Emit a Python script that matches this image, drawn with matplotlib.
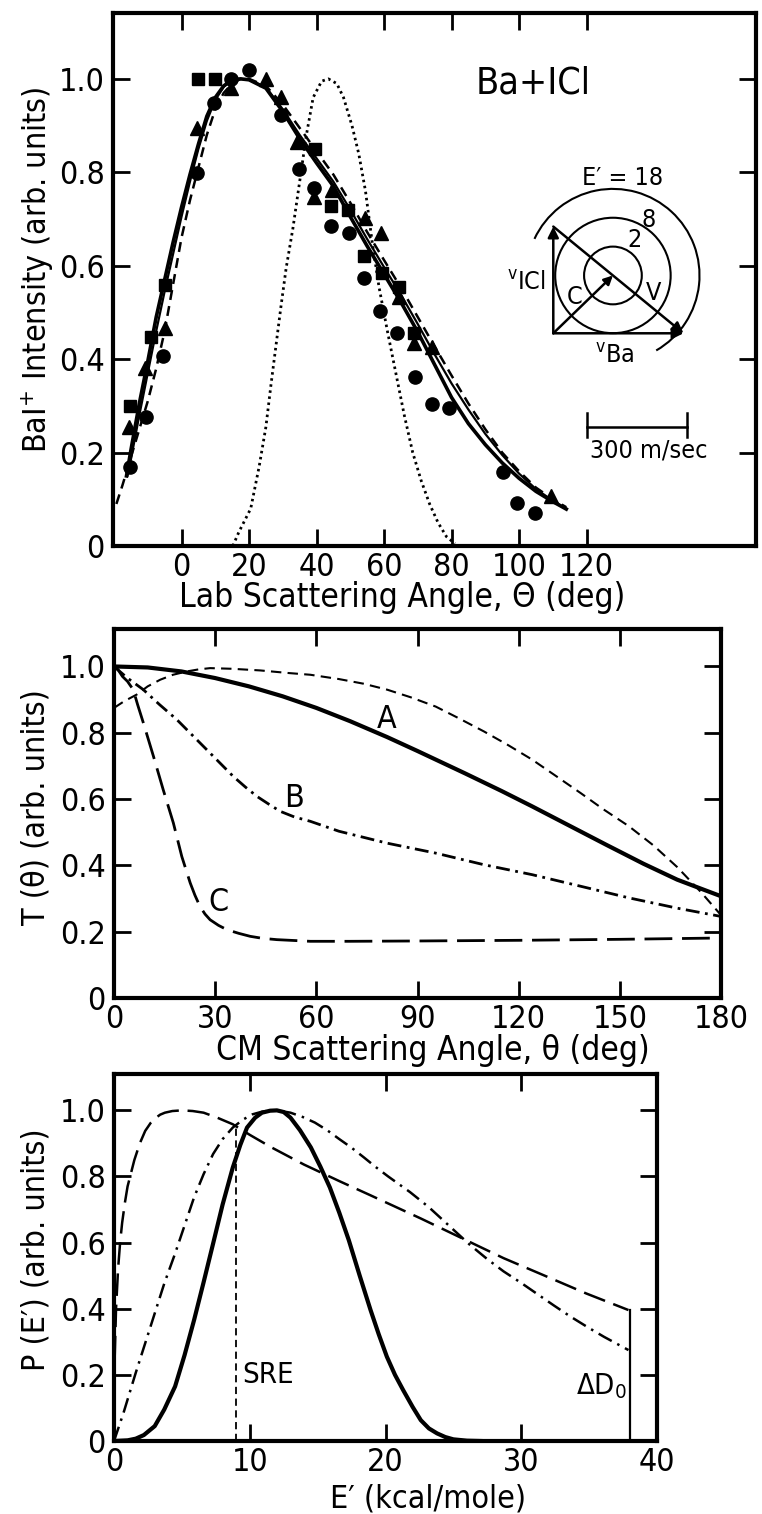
import numpy as np
import matplotlib
matplotlib.use("Agg")
import matplotlib.pyplot as plt
from matplotlib import font_manager
from matplotlib.patches import Circle, Arc

names = {f.name for f in font_manager.fontManager.ttflist}
FONT = 'Liberation Sans Narrow' if 'Liberation Sans Narrow' in names else 'DejaVu Sans'
plt.rcParams['font.family'] = [FONT, 'DejaVu Sans']
if FONT == 'DejaVu Sans':
    plt.rcParams['font.stretch'] = 'condensed'
plt.rcParams['mathtext.fontset'] = 'custom'
plt.rcParams['mathtext.rm'] = FONT
plt.rcParams['mathtext.it'] = FONT

# ---------------- Panel 1 data: lab angular distribution ----------------
circ_theta = [-15.4, -10.4, -5.6, 4.5, 9.5, 14.7, 19.9, 29.4, 34.7, 39.3, 44.2, 49.6, 54.1,
              58.7, 63.9, 69.1, 74.1, 79.2, 95.1, 99.4, 104.6]
circ_I = [0.17, 0.277, 0.406, 0.798, 0.948, 1.0, 1.02, 0.923, 0.806, 0.766, 0.685, 0.67, 0.573,
          0.502, 0.457, 0.362, 0.304, 0.295, 0.159, 0.093, 0.071]
sq_theta = [-15.2, -9.0, -5.0, 5.0, 10.0, 39.6, 44.2, 49.4, 54.1, 59.5, 64.4, 68.8]
sq_I = [0.30, 0.447, 0.559, 1.0, 1.0, 0.849, 0.727, 0.72, 0.62, 0.584, 0.555, 0.455]
tri_theta = [-15.6, -10.9, -5.0, 4.5, 14.7, 25.0, 29.6, 34.2, 39.3, 44.5, 54.4, 59.0, 64.4,
             68.8, 74.2, 109.5]
tri_I = [0.255, 0.38, 0.466, 0.894, 0.98, 1.0, 0.962, 0.864, 0.748, 0.762, 0.702, 0.67, 0.534,
         0.435, 0.427, 0.106]

fit_theta = [-16.3, -15, -12.5, -10, -7.5, -5, -2.5, 0, 2.5, 5, 7.5, 10, 12.5, 15, 17.5, 20, 25,
             30, 35, 40, 45, 50, 55, 60, 65, 70, 75, 80, 85, 90, 95, 100, 105, 110, 114]
fit_solid = [0.15, 0.205, 0.305, 0.395, 0.49, 0.57, 0.65, 0.725, 0.795, 0.86, 0.92, 0.96, 0.985,
             0.998, 1.0, 0.998, 0.98, 0.93, 0.872, 0.82, 0.77, 0.705, 0.642, 0.582, 0.522, 0.458,
             0.388, 0.318, 0.262, 0.217, 0.178, 0.145, 0.117, 0.095, 0.079]
fit_thin_theta = [-16.0, -15, -12.5, -10, -7.5, -5, -2.5, 0, 2.5, 5, 7.5, 10, 12.5, 15, 17.5, 20, 25,
                  30, 35, 40, 45, 50, 55, 60, 65, 70, 75, 80, 85, 90, 95, 100, 105, 110, 114]
fit_thin = [0.15, 0.185, 0.28, 0.37, 0.46, 0.545, 0.625, 0.705, 0.78, 0.85, 0.91, 0.955, 0.983,
            0.997, 1.0, 0.998, 0.982, 0.935, 0.88, 0.83, 0.78, 0.72, 0.657, 0.597, 0.538, 0.475,
            0.41, 0.348, 0.292, 0.24, 0.195, 0.155, 0.122, 0.097, 0.08]
fit_dash_theta = [-19.3, -17.5, -15, -12.5, -10, -7.5, -5, -2.5, 0, 2.5, 5, 7.5, 10, 12.5, 15, 17.5,
                  20, 25, 30, 35, 40, 45, 50, 55, 60, 65, 70, 75, 80, 85, 90, 95, 100, 105, 110, 114]
fit_dash = [0.09, 0.13, 0.19, 0.25, 0.31, 0.38, 0.46, 0.56, 0.66, 0.74, 0.81, 0.88, 0.935, 0.97,
            0.99, 1.0, 1.0, 0.985, 0.945, 0.895, 0.845, 0.795, 0.735, 0.672, 0.612, 0.553, 0.49,
            0.427, 0.365, 0.305, 0.25, 0.2, 0.16, 0.125, 0.1, 0.083]
beam_theta = [15.2, 17, 20.5, 23, 25, 26.5, 28, 29.5, 31, 33, 35, 37, 39, 41.5, 43.5, 46, 48,
              50.5, 52.5, 54.5, 56.5, 58.5, 61, 63.5, 66, 68.5, 71, 73.5, 76, 78.5, 81]
beam_I = [0.0, 0.03, 0.08, 0.17, 0.255, 0.345, 0.43, 0.515, 0.595, 0.68, 0.78, 0.88, 0.96, 0.995,
          1.0, 0.99, 0.96, 0.9, 0.84, 0.76, 0.65, 0.555, 0.46, 0.37, 0.28, 0.2, 0.14, 0.09, 0.05,
          0.02, 0.005]

# Newton diagram (m/s)
v_Ba = 388.0
v_ICl = 318.0
m_Ba = 137.3
m_ICl = 162.4
ring_E = [2, 8, 18]
ring_r = [86.0, 172.0, 258.0]
scale_bar = 300.0

# ---------------- Panel 2 data: T(theta) ----------------
A_theta = [0, 10, 20, 30, 40, 50, 60, 70, 81, 90, 104, 115, 124, 135, 146, 157, 167, 174, 180]
A_T = [1.0, 0.997, 0.985, 0.965, 0.94, 0.91, 0.875, 0.835, 0.787, 0.745, 0.678, 0.624, 0.578,
       0.52, 0.462, 0.405, 0.357, 0.33, 0.307]
D_theta = [0, 3, 6.7, 10, 13.7, 17.5, 21.6, 25, 28.5, 35, 43.4, 52, 58.2, 66.7, 74, 81, 88, 95.4,
           102, 109.7, 117, 124, 131, 138.4, 145, 152.7, 160, 167, 174, 180]
D_T = [0.875, 0.895, 0.915, 0.94, 0.96, 0.975, 0.985, 0.991, 0.995, 0.993, 0.988, 0.98, 0.975,
       0.962, 0.948, 0.93, 0.907, 0.879, 0.845, 0.804, 0.762, 0.719, 0.67, 0.618, 0.57, 0.518,
       0.46, 0.395, 0.32, 0.25]
B_theta = [0, 4, 8.7, 13.5, 18.6, 23, 27.5, 31.5, 35.4, 39, 42.4, 46, 49.3, 53.5, 58.2, 66.7,
           81, 95.4, 109.7, 124, 138.4, 152.7, 167, 180]
B_T = [1.0, 0.965, 0.93, 0.885, 0.84, 0.795, 0.749, 0.708, 0.668, 0.636, 0.608, 0.584, 0.563,
       0.546, 0.533, 0.503, 0.467, 0.437, 0.402, 0.372, 0.337, 0.302, 0.271, 0.246]
C_theta = [0, 1.2, 2.5, 4, 5.7, 7, 8.7, 11.7, 14.6, 17.6, 20.1, 22.6, 24, 25.5, 27, 28.5, 31,
           33.5, 37, 40.4, 44, 48.3, 58.2, 70, 90, 120, 150, 180]
C_T = [1.0, 0.99, 0.97, 0.955, 0.93, 0.885, 0.83, 0.729, 0.628, 0.528, 0.427, 0.347, 0.31,
       0.276, 0.253, 0.236, 0.219, 0.206, 0.195, 0.186, 0.18, 0.176, 0.171, 0.171, 0.172, 0.174,
       0.177, 0.181]

# ---------------- Panel 3 data: P(E') ----------------
S_E = [0, 1, 1.6, 2.2, 3, 3.7, 4.5, 5.2, 5.9, 6.6, 7.3, 8, 8.75, 9.3, 9.8, 10.4, 10.9, 11.5, 12,
       12.5, 13, 13.7, 14.5, 15.2, 15.9, 16.6, 17.3, 18.1, 18.9, 19.5, 20.1, 20.7, 21.3, 22, 22.6,
       23.2, 23.8, 24.4, 25, 26, 27]
S_P = [0, 0.002, 0.007, 0.018, 0.045, 0.095, 0.165, 0.26, 0.366, 0.48, 0.597, 0.715, 0.827,
       0.895, 0.948, 0.978, 0.993, 0.999, 1.0, 0.995, 0.978, 0.94, 0.888, 0.83, 0.767, 0.69,
       0.607, 0.5, 0.396, 0.323, 0.255, 0.2, 0.154, 0.103, 0.063, 0.038, 0.023, 0.012, 0.005,
       0.001, 0]
L_E = [0.05, 0.15, 0.3, 0.45, 0.6, 0.8, 1.0, 1.25, 1.5, 1.9, 2.3, 2.7, 3.0, 3.4, 3.75, 4.3, 5,
       5.8, 6.6, 7.6, 8.75, 10, 11.6, 14, 16.6, 18.9, 22.6, 25.7, 28.7, 31.9, 34.8, 37.9]
L_P = [0.25, 0.4, 0.52, 0.6, 0.66, 0.72, 0.77, 0.81, 0.85, 0.9, 0.938, 0.962, 0.975, 0.987,
       0.993, 0.998, 1.0, 0.998, 0.993, 0.978, 0.958, 0.926, 0.888, 0.836, 0.786, 0.743, 0.673,
       0.612, 0.553, 0.497, 0.446, 0.396]
DD_E = [0, 0.7, 1.6, 2.3, 3, 3.7, 4.5, 5.2, 5.9, 6.6, 7.3, 8, 8.75, 9.5, 10.2, 10.9, 11.6, 12.3,
        13, 13.9, 14.8, 15.7, 16.6, 17.5, 18.4, 19.3, 20.2, 21.8, 23.2, 24.5, 26.2, 27.5, 28.7,
        30, 31.2, 32.4, 33.6, 34.9, 36.1, 37.9]
DD_P = [0, 0.085, 0.206, 0.296, 0.386, 0.476, 0.567, 0.652, 0.737, 0.807, 0.868, 0.913, 0.948,
        0.972, 0.988, 0.996, 1.0, 0.998, 0.993, 0.98, 0.963, 0.94, 0.913, 0.887, 0.858, 0.828,
        0.8, 0.753, 0.707, 0.658, 0.594, 0.55, 0.513, 0.478, 0.444, 0.41, 0.377, 0.344, 0.315,
        0.275]
SRE = 9.0
SRE_top = 0.955
DeltaD0 = 38.0
DeltaD0_top = 0.397

yticks = [0, 0.2, 0.4, 0.6, 0.8, 1.0]
ytick_labels = ['0', '0.2', '0.4', '0.6', '0.8', '1.0']

W, H = 762, 1514
fig = plt.figure(figsize=(W / 100, H / 100), dpi=100)
fig.patch.set_facecolor('white')

TICK_FS = 23
LAB_FS = 23
PRIME = '\u2032'


def style(ax):
    for s in ax.spines.values():
        s.set_linewidth(3)
    ax.tick_params(direction='in', length=12, width=2, top=True, right=True,
                   labelsize=TICK_FS, pad=4)
    ax.tick_params(axis='y', pad=6)


def px_axes(l, t, r, b):
    return fig.add_axes([l / W, 1 - b / H, (r - l) / W, (b - t) / H])


# ---------- Panel 1 ----------
ax1 = px_axes(113, 13, 756, 546)
ax1.plot(fit_dash_theta, fit_dash, color='k', lw=1.8, ls=(0, (4, 2.5)))
ax1.plot(fit_thin_theta, fit_thin, color='k', lw=1.6)
ax1.plot(fit_theta, fit_solid, color='k', lw=2.6)
ax1.plot(beam_theta, beam_I, color='k', lw=2.0, ls=(0, (0.9, 1.3)))
ax1.plot(circ_theta, circ_I, 'o', color='k', ms=9.5)
ax1.plot(sq_theta, sq_I, 's', color='k', ms=9)
ax1.plot(tri_theta, tri_I, '^', color='k', ms=10)
ax1.set_xlim(-20.3, 170.2)
ax1.set_ylim(0, 1.141)
ax1.set_xticks([0, 20, 40, 60, 80, 100, 120])
ax1.set_yticks(yticks)
ax1.set_yticklabels(ytick_labels)
style(ax1)
ax1.set_xlabel('Lab Scattering Angle, \u0398 (deg)', fontsize=24)
ax1.xaxis.label.set_va('center')
ax1.xaxis.set_label_coords(0.449, -0.096)
ax1.set_ylabel('BaI$^{+}$ Intensity (arb. units)', fontsize=LAB_FS)
ax1.yaxis.label.set_va('center')
ax1.yaxis.set_label_coords(-0.118, 0.518)
ax1.text(87, 0.99, 'Ba+ICl', fontsize=27, ha='left', va='center')

# Newton diagram inset
ins = px_axes(500, 160, 720, 470)
ins.set_xlim(-158.8, 496.8)
ins.set_ylim(-407.4, 516.4)
ins.axis('off')
M = m_Ba + m_ICl
cm = (m_Ba * v_Ba / M, m_ICl * v_ICl / M)
ap = dict(arrowstyle='-|>', lw=1.8, color='k', mutation_scale=16, shrinkA=0, shrinkB=0)
ins.annotate('', xy=(0, v_ICl), xytext=(0, 0), arrowprops=ap)
ins.annotate('', xy=(v_Ba, 0), xytext=(0, 0), arrowprops=ap)
ins.annotate('', xy=(v_Ba, 0), xytext=(0, v_ICl), arrowprops=ap)
ins.annotate('', xy=cm, xytext=(0, 0), arrowprops=dict(ap, mutation_scale=13))
for E, r in zip(ring_E[:2], ring_r[:2]):
    ins.add_patch(Circle(cm, r, fill=False, lw=1.5, color='k'))
ins.add_patch(Arc(cm, 2 * ring_r[2], 2 * ring_r[2], theta1=-60, theta2=155, lw=1.5, color='k'))
ins.text(cm[0] + 30, cm[1] + 290, 'E' + PRIME + ' = %d' % ring_E[2], fontsize=18,
         ha='center', va='center')
ins.text(cm[0] + 106, cm[1] + 165, '%d' % ring_E[1], fontsize=18, ha='center', va='center')
ins.text(cm[0] + 63, cm[1] + 105, '%d' % ring_E[0], fontsize=18, ha='center', va='center')
ins.text(-22, 150, '$^{\\mathrm{v}}$ICl', fontsize=18, ha='right', va='center')
ins.text(65, 109, 'C', fontsize=18, ha='center', va='center')
ins.text(298, 119, 'V', fontsize=18, ha='center', va='center')
ins.text(184, -68, '$^{\\mathrm{v}}$Ba', fontsize=18, ha='center', va='center')
sb0 = 99.0
ins.plot([sb0, sb0 + scale_bar], [-279, -279], color='k', lw=1.8)
ins.plot([sb0, sb0], [-238, -308], color='k', lw=1.8)
ins.plot([sb0 + scale_bar, sb0 + scale_bar], [-238, -308], color='k', lw=1.8)
ins.text(sb0 + scale_bar / 2 + 35, -350, '300 m/sec', fontsize=18, ha='center', va='center')

# ---------- Panel 2 ----------
ax2 = px_axes(114, 629, 721, 998)
ax2.plot(D_theta, D_T, color='k', lw=1.5, ls=(0, (5, 3)))
ax2.plot(A_theta, A_T, color='k', lw=3.0)
ax2.plot(B_theta, B_T, color='k', lw=2.0, ls=(0, (5, 2, 1, 2)))
ax2.plot(C_theta, C_T, color='k', lw=2.0, ls=(0, (10, 3.5)))
ax2.set_xlim(0, 180)
ax2.set_ylim(0, 1.113)
ax2.set_xticks([0, 30, 60, 90, 120, 150, 180])
ax2.set_yticks(yticks)
ax2.set_yticklabels(ytick_labels)
style(ax2)
ax2.text(81, 0.839, 'A', fontsize=23, ha='center', va='center')
ax2.text(53.3, 0.603, 'B', fontsize=23, ha='center', va='center')
ax2.text(31, 0.287, 'C', fontsize=23, ha='center', va='center')
ax2.set_xlabel('CM Scattering Angle, \u03b8 (deg)', fontsize=24)
ax2.xaxis.label.set_va('center')
ax2.xaxis.set_label_coords(0.525, -0.141)
ax2.set_ylabel('T (\u03b8) (arb. units)', fontsize=LAB_FS)
ax2.yaxis.label.set_va('center')
ax2.yaxis.set_label_coords(-0.128, 0.518)

# ---------- Panel 3 ----------
ax3 = px_axes(114, 1074, 657, 1441)
ax3.plot(L_E, L_P, color='k', lw=1.8, ls=(0, (9, 3.5)))
ax3.plot(DD_E, DD_P, color='k', lw=1.8, ls=(0, (6, 2.5, 1, 2.5)))
ax3.plot(S_E, S_P, color='k', lw=3.0)
ax3.plot([SRE, SRE], [0, SRE_top], color='k', lw=1.3, ls=(0, (4, 2.5)))
ax3.plot([DeltaD0, DeltaD0], [0, DeltaD0_top], color='k', lw=1.6)
ax3.text(SRE + 0.45, 0.2, 'SRE', fontsize=21, ha='left', va='center')
ax3.text(DeltaD0 - 0.25, 0.166, '\u0394D$_0$', fontsize=21, ha='right', va='center')
ax3.set_xlim(0, 40)
ax3.set_ylim(0, 1.11)
ax3.set_xticks([0, 10, 20, 30, 40])
ax3.set_yticks(yticks)
ax3.set_yticklabels(ytick_labels)
style(ax3)
ax3.set_xlabel('E' + PRIME + ' (kcal/mole)', fontsize=23)
ax3.xaxis.label.set_va('center')
ax3.xaxis.set_label_coords(0.578, -0.158)
ax3.set_ylabel('P (E' + PRIME + ') (arb. units)', fontsize=LAB_FS)
ax3.yaxis.label.set_va('center')
ax3.yaxis.set_label_coords(-0.143, 0.52)

fig.savefig('out.png', dpi=100, facecolor='white')
